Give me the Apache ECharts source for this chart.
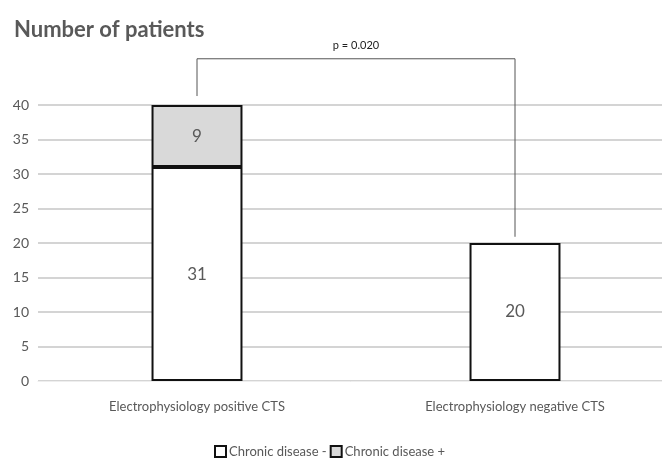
<!DOCTYPE html>
<html><head><meta charset="utf-8">
<script src="https://cdn.jsdelivr.net/npm/echarts@6/dist/echarts.min.js"></script>
<style>html,body{margin:0;padding:0;background:#fff}#c{width:662px;height:458px}</style>
</head><body><div id="c"></div>
<script>
var categories = ['Electrophysiology positive CTS', 'Electrophysiology negative CTS'];
var chronicMinus = [31, 20];
var chronicPlus = [9, null];
var yTicks = [0, 5, 10, 15, 20, 25, 30, 35, 40];
var bracketPoints = [[0, 41.3], [0, 46.7], [1, 46.7], [1, 20.9]];
var pText = 'p = 0.020';

var FONT = 'Lato';
var chart = echarts.init(document.getElementById('c'));
var option = {
  animation: false,
  title: {text: 'Number of patients', left: 9, top: 14,
    textStyle: {fontFamily: FONT, fontWeight: 'bold', fontSize: 22, color: '#595959'}},
  legend: {top: 440, left: 209, itemWidth: 11, itemHeight: 11, itemGap: 3,
    icon: 'rect',
    textStyle: {fontFamily: FONT, fontSize: 13, color: '#595959', padding: [0, 0, 0, -2]},
    data: ['Chronic disease -', 'Chronic disease +']},
  grid: {left: 38, width: 636, top: 105, height: 276, containLabel: false, outerBoundsMode: 'none'},
  xAxis: {type: 'category', data: categories,
    axisLine: {lineStyle: {color: '#eeeeee', width: 1}}, axisTick: {show: false},
    axisLabel: {fontFamily: FONT, fontSize: 13, color: '#595959', margin: 19}},
  yAxis: {type: 'value', min: yTicks[0], max: yTicks[yTicks.length - 1], interval: 5,
    axisLabel: {fontFamily: FONT, fontSize: 14, color: '#595959', margin: 9}},
  series: [
    {name: 'Chronic disease -', type: 'bar', stack: 's', data: chronicMinus, barWidth: '28.6%',
      itemStyle: {color: '#ffffff', borderColor: '#111111', borderWidth: 2},
      label: {show: true, position: 'inside', fontFamily: FONT, fontSize: 17, color: '#595959'}},
    {name: 'Chronic disease +', type: 'bar', stack: 's', data: chronicPlus, barWidth: '28.6%',
      itemStyle: {color: '#d9d9d9', borderColor: '#111111', borderWidth: 2},
      label: {show: true, position: 'inside', fontFamily: FONT, fontSize: 17, color: '#595959'}},
    {name: 'bracket', type: 'line', data: bracketPoints, clip: false, symbol: 'none',
      lineStyle: {color: '#555555', width: 1}, silent: true, z: 5}
  ]
};
option.yAxis.splitLine = {lineStyle: {color: '#d4d4d4', width: 2}};
chart.setOption(option);
var p0 = chart.convertToPixel({gridIndex: 0}, [0, 46.7]);
var p1 = chart.convertToPixel({gridIndex: 0}, [1, 46.7]);
chart.setOption({graphic: [{type: 'text', x: (p0[0] + p1[0]) / 2, y: p0[1] - 8,
  style: {text: pText, fontFamily: FONT, fontSize: 11, fill: '#222', textAlign: 'center', textVerticalAlign: 'bottom'}}]});
</script></body></html>
